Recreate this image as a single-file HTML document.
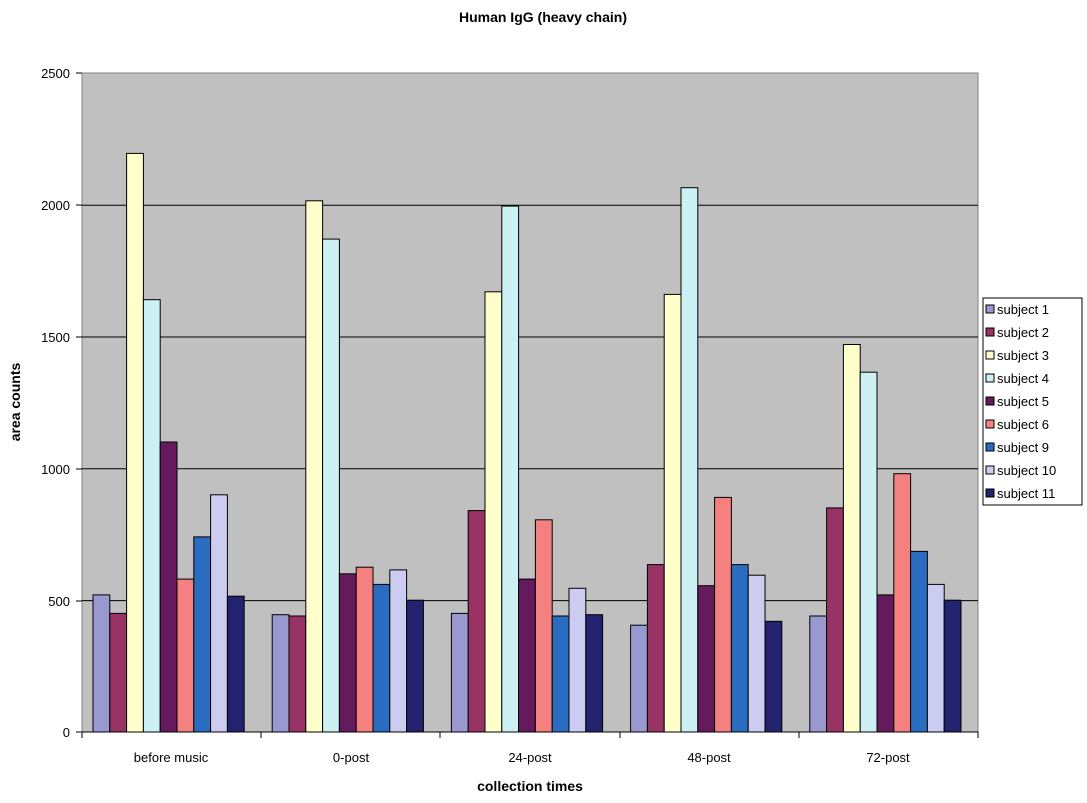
<!DOCTYPE html>
<html><head><meta charset="utf-8"><style>body{margin:0;background:#fff}svg{display:block}</style></head><body>
<svg width="1087" height="803" xmlns="http://www.w3.org/2000/svg" font-family="Liberation Sans, Arial, sans-serif">
<text x="543" y="22" text-anchor="middle" font-size="14" font-weight="bold">Human IgG (heavy chain)</text>
<rect x="82" y="73" width="896" height="659" fill="#c0c0c0" stroke="#808080"/>
<g stroke="#000" stroke-width="1">
<line x1="82" x2="978" y1="205.2" y2="205.2"/><line x1="82" x2="978" y1="337.0" y2="337.0"/><line x1="82" x2="978" y1="468.8" y2="468.8"/><line x1="82" x2="978" y1="600.6" y2="600.6"/>
</g>
<g font-size="13" text-anchor="end">
<text x="70" y="78">2500</text><text x="70" y="210">2000</text><text x="70" y="342">1500</text><text x="70" y="474">1000</text><text x="70" y="606">500</text><text x="70" y="737">0</text>
</g>
<g stroke="#000" stroke-width="1">
<line x1="76" x2="82" y1="73" y2="73"/><line x1="76" x2="82" y1="205" y2="205"/><line x1="76" x2="82" y1="337" y2="337"/><line x1="76" x2="82" y1="469" y2="469"/><line x1="76" x2="82" y1="601" y2="601"/><line x1="76" x2="82" y1="732" y2="732"/>
<line x1="82" x2="978" y1="732" y2="732"/>
<line x1="82" x2="82" y1="732" y2="738"/><line x1="261" x2="261" y1="732" y2="738"/><line x1="440" x2="440" y1="732" y2="738"/><line x1="620" x2="620" y1="732" y2="738"/><line x1="799" x2="799" y1="732" y2="738"/><line x1="978" x2="978" y1="732" y2="738"/>
</g>
<g stroke="#000" stroke-width="1">
<g transform="translate(93,0)">
<rect x="0" y="594.9" width="16.8" height="137.1" fill="#9999d0"/>
<rect x="16.8" y="613.4" width="16.8" height="118.6" fill="#993366"/>
<rect x="33.6" y="153.4" width="16.8" height="578.6" fill="#ffffcc"/>
<rect x="50.4" y="299.7" width="16.8" height="432.3" fill="#ccf0f4"/>
<rect x="67.2" y="442.0" width="16.8" height="290.0" fill="#661a5e"/>
<rect x="84" y="579.1" width="16.8" height="152.9" fill="#f48080"/>
<rect x="100.8" y="536.9" width="16.8" height="195.1" fill="#2a6cc0"/>
<rect x="117.6" y="494.8" width="16.8" height="237.2" fill="#ccccf0"/>
<rect x="134.4" y="596.2" width="16.8" height="135.8" fill="#22226e"/>
</g>
<g transform="translate(272.2,0)">
<rect x="0" y="614.7" width="16.8" height="117.3" fill="#9999d0"/>
<rect x="16.8" y="616.0" width="16.8" height="116.0" fill="#993366"/>
<rect x="33.6" y="200.8" width="16.8" height="531.2" fill="#ffffcc"/>
<rect x="50.4" y="239.1" width="16.8" height="492.9" fill="#ccf0f4"/>
<rect x="67.2" y="573.8" width="16.8" height="158.2" fill="#661a5e"/>
<rect x="84" y="567.2" width="16.8" height="164.8" fill="#f48080"/>
<rect x="100.8" y="584.4" width="16.8" height="147.6" fill="#2a6cc0"/>
<rect x="117.6" y="569.9" width="16.8" height="162.1" fill="#ccccf0"/>
<rect x="134.4" y="600.2" width="16.8" height="131.8" fill="#22226e"/>
</g>
<g transform="translate(451.4,0)">
<rect x="0" y="613.4" width="16.8" height="118.6" fill="#9999d0"/>
<rect x="16.8" y="510.6" width="16.8" height="221.4" fill="#993366"/>
<rect x="33.6" y="291.8" width="16.8" height="440.2" fill="#ffffcc"/>
<rect x="50.4" y="206.1" width="16.8" height="525.9" fill="#ccf0f4"/>
<rect x="67.2" y="579.1" width="16.8" height="152.9" fill="#661a5e"/>
<rect x="84" y="519.8" width="16.8" height="212.2" fill="#f48080"/>
<rect x="100.8" y="616.0" width="16.8" height="116.0" fill="#2a6cc0"/>
<rect x="117.6" y="588.3" width="16.8" height="143.7" fill="#ccccf0"/>
<rect x="134.4" y="614.7" width="16.8" height="117.3" fill="#22226e"/>
</g>
<g transform="translate(630.6,0)">
<rect x="0" y="625.2" width="16.8" height="106.8" fill="#9999d0"/>
<rect x="16.8" y="564.6" width="16.8" height="167.4" fill="#993366"/>
<rect x="33.6" y="294.4" width="16.8" height="437.6" fill="#ffffcc"/>
<rect x="50.4" y="187.7" width="16.8" height="544.3" fill="#ccf0f4"/>
<rect x="67.2" y="585.7" width="16.8" height="146.3" fill="#661a5e"/>
<rect x="84" y="497.4" width="16.8" height="234.6" fill="#f48080"/>
<rect x="100.8" y="564.6" width="16.8" height="167.4" fill="#2a6cc0"/>
<rect x="117.6" y="575.2" width="16.8" height="156.8" fill="#ccccf0"/>
<rect x="134.4" y="621.3" width="16.8" height="110.7" fill="#22226e"/>
</g>
<g transform="translate(809.8,0)">
<rect x="0" y="616.0" width="16.8" height="116.0" fill="#9999d0"/>
<rect x="16.8" y="507.9" width="16.8" height="224.1" fill="#993366"/>
<rect x="33.6" y="344.5" width="16.8" height="387.5" fill="#ffffcc"/>
<rect x="50.4" y="372.2" width="16.8" height="359.8" fill="#ccf0f4"/>
<rect x="67.2" y="594.9" width="16.8" height="137.1" fill="#661a5e"/>
<rect x="84" y="473.7" width="16.8" height="258.3" fill="#f48080"/>
<rect x="100.8" y="551.4" width="16.8" height="180.6" fill="#2a6cc0"/>
<rect x="117.6" y="584.4" width="16.8" height="147.6" fill="#ccccf0"/>
<rect x="134.4" y="600.2" width="16.8" height="131.8" fill="#22226e"/>
</g>
</g>
<g font-size="13" text-anchor="middle">
<text x="171" y="762">before music</text><text x="351" y="762">0-post</text><text x="530" y="762">24-post</text><text x="709" y="762">48-post</text><text x="888" y="762">72-post</text>
</g>
<text x="530" y="791" text-anchor="middle" font-size="14" font-weight="bold">collection times</text>
<text transform="translate(20,402) rotate(-90)" text-anchor="middle" font-size="14" font-weight="bold">area counts</text>
<rect x="983" y="298" width="99" height="207" fill="#fff" stroke="#000"/>
<g font-size="13" stroke="#000" stroke-width="1">
<rect x="986" y="305" width="8" height="8" fill="#9999d0"/>
<rect x="986" y="328" width="8" height="8" fill="#993366"/>
<rect x="986" y="351" width="8" height="8" fill="#ffffcc"/>
<rect x="986" y="374" width="8" height="8" fill="#ccf0f4"/>
<rect x="986" y="397" width="8" height="8" fill="#661a5e"/>
<rect x="986" y="420" width="8" height="8" fill="#f48080"/>
<rect x="986" y="443" width="8" height="8" fill="#2a6cc0"/>
<rect x="986" y="466" width="8" height="8" fill="#ccccf0"/>
<rect x="986" y="489" width="8" height="8" fill="#22226e"/>
</g>
<g font-size="13">
<text x="997" y="314">subject 1</text>
<text x="997" y="337">subject 2</text>
<text x="997" y="360">subject 3</text>
<text x="997" y="383">subject 4</text>
<text x="997" y="406">subject 5</text>
<text x="997" y="429">subject 6</text>
<text x="997" y="452">subject 9</text>
<text x="997" y="475">subject 10</text>
<text x="997" y="498">subject 11</text>
</g>
</svg>
</body></html>
